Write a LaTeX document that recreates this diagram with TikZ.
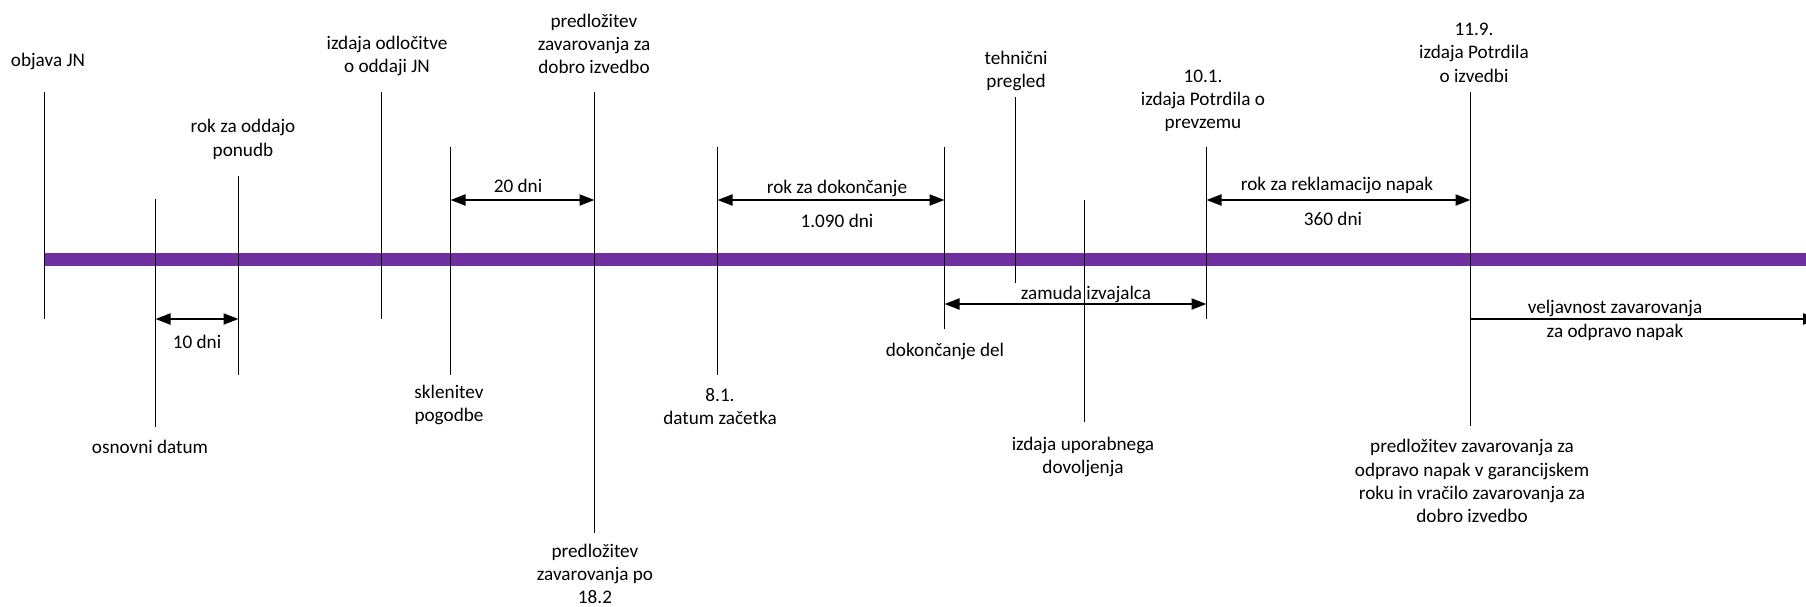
\documentclass[tikz,border=0pt]{standalone}
\usepackage{fontspec}
\setmainfont{Carlito}
\usetikzlibrary{arrows.meta}
\definecolor{purplebar}{RGB}{112,48,160}

\begin{document}
\begin{tikzpicture}[x=0.5pt, y=-0.5pt,
		every node/.style={font=\fontsize{9.6}{11.65}\selectfont, align=center, inner sep=0pt},
		tick/.style={line width=0.55pt},
		span/.style={{Triangle[length=7.5pt,width=5.5pt]}-{Triangle[length=7.5pt,width=5.5pt]}, line width=1pt},
		onespan/.style={-{Triangle[length=7.5pt,width=5.5pt]}, line width=1pt}]
		\useasboundingbox (0,0) rectangle (1806,606);

		% Time axis
		\coordinate (axisL) at (44.5, 259.5);
		\coordinate (axisR) at (1806, 259.5);
		\draw[purplebar, line width=6.2pt] (axisL) -- (axisR);

		% Ticks
		\draw[tick] (44.5, 92) coordinate (objT) -- (44.5, 319) coordinate (objB);
		\draw[tick] (155.5, 199) coordinate (osnT) -- (155.5, 427) coordinate (osnB);
		\draw[tick] (238.5, 175.7) coordinate (rokT) -- (238.5, 374.7) coordinate (rokB);
		\draw[tick] (381.5, 92) coordinate (odlT) -- (381.5, 319) coordinate (odlB);
		\draw[tick] (450.5, 146.7) coordinate (sklT) -- (450.5, 374.7) coordinate (sklB);
		\draw[tick] (594.5, 92) coordinate (preT) -- (594.5, 533) coordinate (preB);
		\draw[tick] (717.5, 146.7) coordinate (zacT) -- (717.5, 374.7) coordinate (zacB);
		\draw[tick] (944.5, 146.7) coordinate (dokT) -- (944.5, 329.3) coordinate (dokB);
		\draw[tick] (1015.5, 97.3) coordinate (tehT) -- (1015.5, 283.3) coordinate (tehB);
		\draw[tick] (1084.5, 200) coordinate (upoT) -- (1084.5, 421.7) coordinate (upoB);
		\draw[tick] (1206.5, 146.7) coordinate (prvT) -- (1206.5, 319.3) coordinate (prvB);
		\draw[tick] (1470.5, 92.3) coordinate (izvT) -- (1470.5, 425.7) coordinate (izvB);

		% Spans
		\coordinate (d10a) at (155.5, 319);
		\coordinate (d10b) at (238.5, 319);
		\draw[span] (d10a) -- (d10b);
		\coordinate (d20a) at (450.5, 200);
		\coordinate (d20b) at (594.5, 200);
		\draw[span] (d20a) -- (d20b);
		\coordinate (doka) at (717.5, 200);
		\coordinate (dokb) at (944.5, 200);
		\draw[span] (doka) -- (dokb);
		\coordinate (zama) at (944.5, 304);
		\coordinate (zamb) at (1206.5, 304);
		\draw[span] (zama) -- (zamb);
		\coordinate (reka) at (1206.5, 200);
		\coordinate (rekb) at (1470.5, 200);
		\draw[span] (reka) -- (rekb);
		\coordinate (velja) at (1470.5, 319);
		\coordinate (veljb) at (1818, 319);
		\draw[onespan] (velja) -- (veljb);

		% Labels above the axis
		\node (objava) at (48, 61) {objava JN};
		\node (rokodd) at (243, 139.5) {rok za oddajo\\ponudb};
		\node (odlocitev) at (387, 56.3) {izdaja odločitve\\o oddaji JN};
		\node (zavdobro) at (594, 44) {predložitev\\zavarovanja za\\dobro izvedbo};
		\node (tehpregled) at (1016, 71.3) {tehnični\\pregled};
		\node (prevzem) at (1203, 101) {10.1.\\izdaja Potrdila o\\prevzemu};
		\node (izvedba) at (1474, 52.7) {11.9.\\izdaja Potrdila\\o izvedbi};

		% Span labels
		\node (dni20) at (518, 185.7) {20 dni};
		\node (rokdok) at (837, 188.3) {rok za dokončanje};
		\node (dni1090) at (837, 220.7) {1.090 dni};
		\node (rokrek) at (1337, 185.7) {rok za reklamacijo napak};
		\node (dni360) at (1333, 218.7) {360 dni};
		\node (dni10) at (197, 342) {10 dni};
		\node (zamuda) at (1086, 294) {zamuda izvajalca};
		\node (veljavnost) at (1615, 320.5) {veljavnost zavarovanja\\za odpravo napak};

		% Labels below the axis
		\node (osnovni) at (150, 446.7) {osnovni datum};
		\node (sklenitev) at (449, 404.7) {sklenitev\\pogodbe};
		\node (zavpo) at (595, 574) {predložitev\\zavarovanja po\\18.2};
		\node (zacetek) at (720, 406.3) {8.1.\\datum začetka};
		\node (dokoncanje) at (945, 351) {dokončanje del};
		\node (uporabno) at (1083, 457) {izdaja uporabnega\\dovoljenja};
		\node (garancija) at (1472, 481.2) {predložitev zavarovanja za\\odpravo napak v garancijskem\\roku in vračilo zavarovanja za\\dobro izvedbo};

		% Tick over the label
		\draw[tick] (upoT) -- (upoB);
\end{tikzpicture}
\end{document}
